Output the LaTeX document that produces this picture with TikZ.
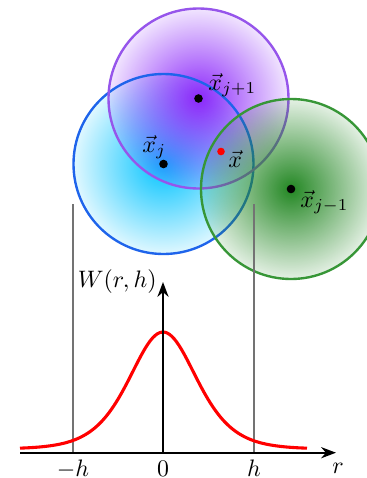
\documentclass[tikz,border=0pt]{standalone}
\usepackage{amsmath,amssymb}
\usetikzlibrary{arrows.meta,positioning,fadings}
\definecolor{kblue}{RGB}{30,100,235}
\definecolor{kcyan}{RGB}{0,195,255}
\definecolor{kpurple}{RGB}{150,85,235}
\definecolor{kviolet}{RGB}{140,40,250}
\definecolor{kgreen}{RGB}{55,150,55}
\definecolor{kgreenfill}{RGB}{35,135,35}
\begin{tikzfadingfrompicture}[name=kfade]
  \shade[inner color=transparent!0,outer color=transparent!100] (0,0) circle (1cm);
\end{tikzfadingfrompicture}
\tikzset{
  >={Stealth[length=2.2mm]},
  kring/.style={line width=1pt},
  kglow/.style={path fading=kfade,fit fading=true},
  kdot/.style={circle,fill=black,inner sep=0pt,minimum size=3.6pt},
  xdot/.style={circle,fill=red,inner sep=0pt,minimum size=3.2pt},
  klbl/.style={inner sep=0pt,anchor=base west},
  axis/.style={->,line width=0.8pt},
  guide/.style={black!55,line width=0.45pt},
  kernel/.style={red,line width=1.3pt},
  ticklbl/.style={inner sep=0pt,anchor=base},
}
\begin{document}
\begin{tikzpicture}[x=0.42pt,y=-0.42pt]
  \useasboundingbox (0,0) rectangle (367,478);
  % particle centres
  \coordinate (cj)  at (163.5,164);
  \coordinate (cjp) at (198.5,98.5);
  \coordinate (cjm) at (291,189);
  % smoothing spheres
  \fill[kcyan,kglow] (cj) circle[radius=37.8pt];
  \fill[kviolet,kglow] (cjp) circle[radius=37.8pt];
  \draw[kring,kblue] (cj) circle[radius=37.8pt];
  \draw[kring,kpurple] (cjp) circle[radius=37.8pt];
  \fill[kgreenfill,kglow] (cjm) circle[radius=37.8pt];
  \draw[kring,kgreen] (cjm) circle[radius=37.8pt];
  \node[kdot] (xj) at (cj) {};
  \node[kdot] (xjp) at (cjp) {};
  \node[kdot] (xjm) at (cjm) {};
  \node[xdot] (x) at (221,151.5) {};
  \node[klbl] (lxj) at (142,152) {$\vec{x}_j$};
  \node[klbl] (lxjp) at (208,90) {$\vec{x}_{j+1}$};
  \node[klbl] (lxjm) at (300,207) {$\vec{x}_{j-1}$};
  \node[klbl] (lx) at (228,167) {$\vec{x}$};
  % kernel plot
  \coordinate (o) at (163,452.7);
  \coordinate (rs) at (20,452.7);
  \coordinate (re) at (336,452.7);
  \coordinate (wt) at (163,282);
  \coordinate (gl) at (73,204);
  \coordinate (gr) at (254,204);
  \draw[guide] (gl) -- (gl |- o);
  \draw[guide] (gr) -- (gr |- o);
  \draw[kernel] plot[domain=-143:144,samples=120] ({163+\x},{449-117/(cosh(\x/45.4))^2});
  \draw[axis] (rs) -- (re);
  \draw[axis] (o) -- (wt);
  \node[inner sep=0pt,anchor=base east] (wlbl) at (157,287) {$W(r,h)$};
  \node[ticklbl] (tm) at (73,476) {$-h$};
  \node[ticklbl] (t0) at (163,476) {$0$};
  \node[ticklbl] (tp) at (254,476) {$h$};
  \node[ticklbl] (rl) at (338,473) {$r$};
\end{tikzpicture}
\end{document}
